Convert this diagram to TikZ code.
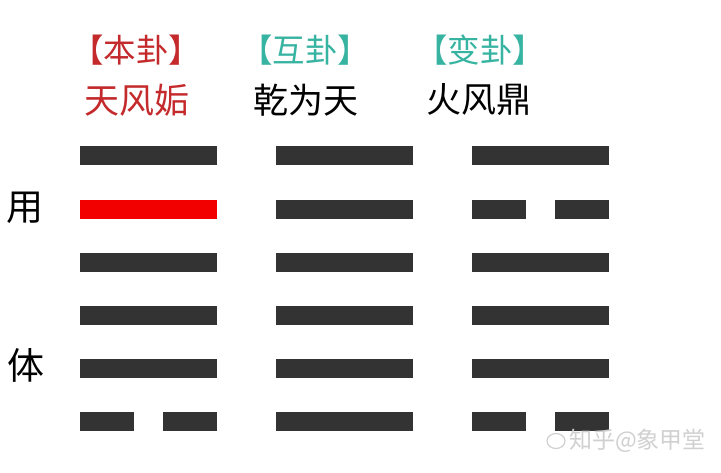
\documentclass[tikz,border=0pt]{standalone}
\usepackage{fontspec}
\newfontfamily\cjk{Noto Sans CJK SC}
\definecolor{barcol}{HTML}{333333}
\definecolor{hotred}{HTML}{F20000}
\definecolor{hdred}{HTML}{C42A2C}
\definecolor{hdteal}{HTML}{36B3A1}
\definecolor{wmgray}{HTML}{D0D0D0}
\tikzset{
  yang/.style={fill=barcol, draw=none, inner sep=0pt, minimum width=137pt, minimum height=19pt, anchor=west},
  yinseg/.style={fill=barcol, draw=none, inner sep=0pt, minimum width=54pt, minimum height=19pt, anchor=west},
  hot/.style={fill=hotred},
  hdr/.style={font=\cjk\fontsize{32.5}{32.5}\selectfont, inner sep=0pt},
  nm/.style={font=\cjk\fontsize{35}{35}\selectfont, inner sep=0pt},
  side/.style={font=\cjk\fontsize{37}{37}\selectfont, inner sep=0pt, text=black},
  wm/.style={font=\cjk\fontsize{23}{23}\selectfont, inner sep=0pt, text=wmgray}
}
\begin{document}
\begin{tikzpicture}[x=1pt,y=-1pt]
\useasboundingbox[fill=white] (0,0) rectangle (721,473);
% headers
\node[hdr, text=hdred] (h1) at (136,50) {【本卦】};
\node[hdr, text=hdteal] (h2) at (305,50) {【互卦】};
\node[hdr, text=hdteal] (h3) at (480,50) {【变卦】};
\node[nm, text=hdred] (n1) at (137,100) {天风姤};
\node[nm, text=black] (n2) at (306,100) {乾为天};
\node[nm, text=black] (n3) at (479,100) {火风鼎};
% side labels
\node[side] (yong) at (25,208) {用};
\node[side] (ti) at (26,365.5) {体};
% column 1: 天风姤
\node[yang] (a1) at (80,156) {};
\node[yang,hot] (a2) at (80,209.3) {};
\node[yang] (a3) at (80,262.4) {};
\node[yang] (a4) at (80,315.5) {};
\node[yang] (a5) at (80,368.5) {};
\node[yinseg] (a6l) at (80,421.5) {};
\node[yinseg] (a6r) at (163,421.5) {};
% column 2: 乾为天
\node[yang] (b1) at (276,156) {};
\node[yang] (b2) at (276,209.3) {};
\node[yang] (b3) at (276,262.4) {};
\node[yang] (b4) at (276,315.5) {};
\node[yang] (b5) at (276,368.5) {};
\node[yang] (b6) at (276,421.5) {};
% column 3: 火风鼎
\node[yang] (c1) at (472,156) {};
\node[yinseg] (c2l) at (472,209.3) {};
\node[yinseg] (c2r) at (555,209.3) {};
\node[yang] (c3) at (472,262.4) {};
\node[yang] (c4) at (472,315.5) {};
\node[yang] (c5) at (472,368.5) {};
\node[yinseg] (c6l) at (472,421.5) {};
\node[yinseg] (c6r) at (555,421.5) {};
% watermark
\draw[wmgray, line width=1.2pt] (556,441) ellipse (9pt and 7.5pt);
\node[wm, anchor=west] (wmark) at (569,441) {知乎@象甲堂};
\end{tikzpicture}
\end{document}
